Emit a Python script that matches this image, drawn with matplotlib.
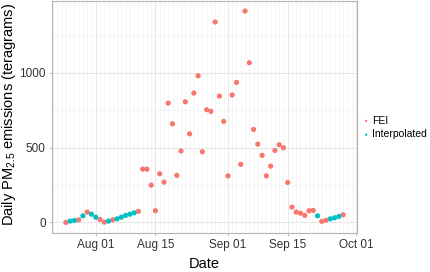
import numpy as np
import pandas as pd
import matplotlib
matplotlib.use('Agg')
import matplotlib.pyplot as plt
import matplotlib.dates as mdates

plt.rcParams['font.family'] = ['Liberation Sans', 'DejaVu Sans']
plt.rcParams['mathtext.fontset'] = 'custom'
plt.rcParams['mathtext.rm'] = 'Liberation Sans'

# daily emissions, Jul 25 .. Sep 28
dates = pd.date_range('2017-07-25', '2017-09-28', freq='D')
emissions = [0, 9, 13, 17, 44, 69, 55,
             35, 20, 2, 9, 17, 24, 35, 47, 55, 64, 74, 356, 356, 249, 78,
             325, 269, 797, 659, 314, 477, 806, 592, 864, 980, 472, 753, 742,
             1339, 844, 675,
             311, 851, 935, 388, 1412, 1067, 621, 523, 448, 311, 376, 481, 519,
             499, 267, 102, 69, 62, 47, 78, 80, 44, 7, 15, 24, 31, 40, 51]
source = ['FEI', 'Interpolated', 'Interpolated', 'FEI', 'Interpolated', 'FEI', 'Interpolated',
          'Interpolated', 'FEI', 'FEI', 'Interpolated', 'FEI', 'Interpolated', 'Interpolated',
          'Interpolated', 'Interpolated', 'Interpolated'] + ['FEI'] * 42 + \
         ['Interpolated', 'FEI', 'FEI', 'Interpolated', 'Interpolated', 'Interpolated', 'FEI']
groups = ['FEI', 'Interpolated']
colors = {'FEI': '#F8766D', 'Interpolated': '#00BFC4'}

df = pd.DataFrame({'date': dates, 'value': emissions, 'source': source})

fig = plt.figure(figsize=(4.3, 2.72), dpi=100)
ax = fig.add_axes([52 / 430, 39 / 272, 305 / 430, 232.5 / 272])

for g in groups:
    sub = df[df['source'] == g]
    ax.scatter(sub['date'], sub['value'], s=14, color=colors[g], edgecolors='none',
               label=g, zorder=3)

# ggplot-like 5% expansion
span = df['date'].max() - df['date'].min()
ax.set_xlim(df['date'].min() - span * 0.05, df['date'].max() + span * 0.05)
vmax, vmin = max(emissions), min(emissions)
ax.set_ylim(vmin - (vmax - vmin) * 0.05, vmax + (vmax - vmin) * 0.05)

ax.xaxis.set_major_locator(mdates.DayLocator(bymonthday=[1, 15]))
ax.xaxis.set_major_formatter(mdates.DateFormatter('%b %d'))
ax.xaxis.set_minor_locator(mdates.DayLocator())
ax.set_yticks([0, 500, 1000])
ax.set_yticks([250, 750, 1250], minor=True)

ax.grid(which='major', color='#E3E3E3', linewidth=0.6)
ax.grid(which='minor', color='#F0F0F0', linewidth=0.4)
ax.set_axisbelow(True)
for sp in ax.spines.values():
    sp.set_color('#B3B3B3')
    sp.set_linewidth(0.8)
ax.tick_params(which='major', length=2.5, width=0.6, color='#B3B3B3',
               labelsize=8.5, labelcolor='#333333', pad=2)
ax.tick_params(which='minor', length=0)

ax.set_xlabel('Date', fontsize=10.5, labelpad=4)
ax.set_ylabel(r'Daily PM$_{\mathregular{2.5}}$ emissions (teragrams)', fontsize=10.5)
ax.yaxis.set_label_coords(-0.113, 0.51)

fig.legend(loc='center left', bbox_to_anchor=(362 / 430, 1 - 127.5 / 272), frameon=False,
           fontsize=7.5, handletextpad=0.2, markerscale=0.45, labelspacing=0.35,
           handlelength=0.8, borderaxespad=0, borderpad=0)

fig.savefig('out.png', dpi=100)
